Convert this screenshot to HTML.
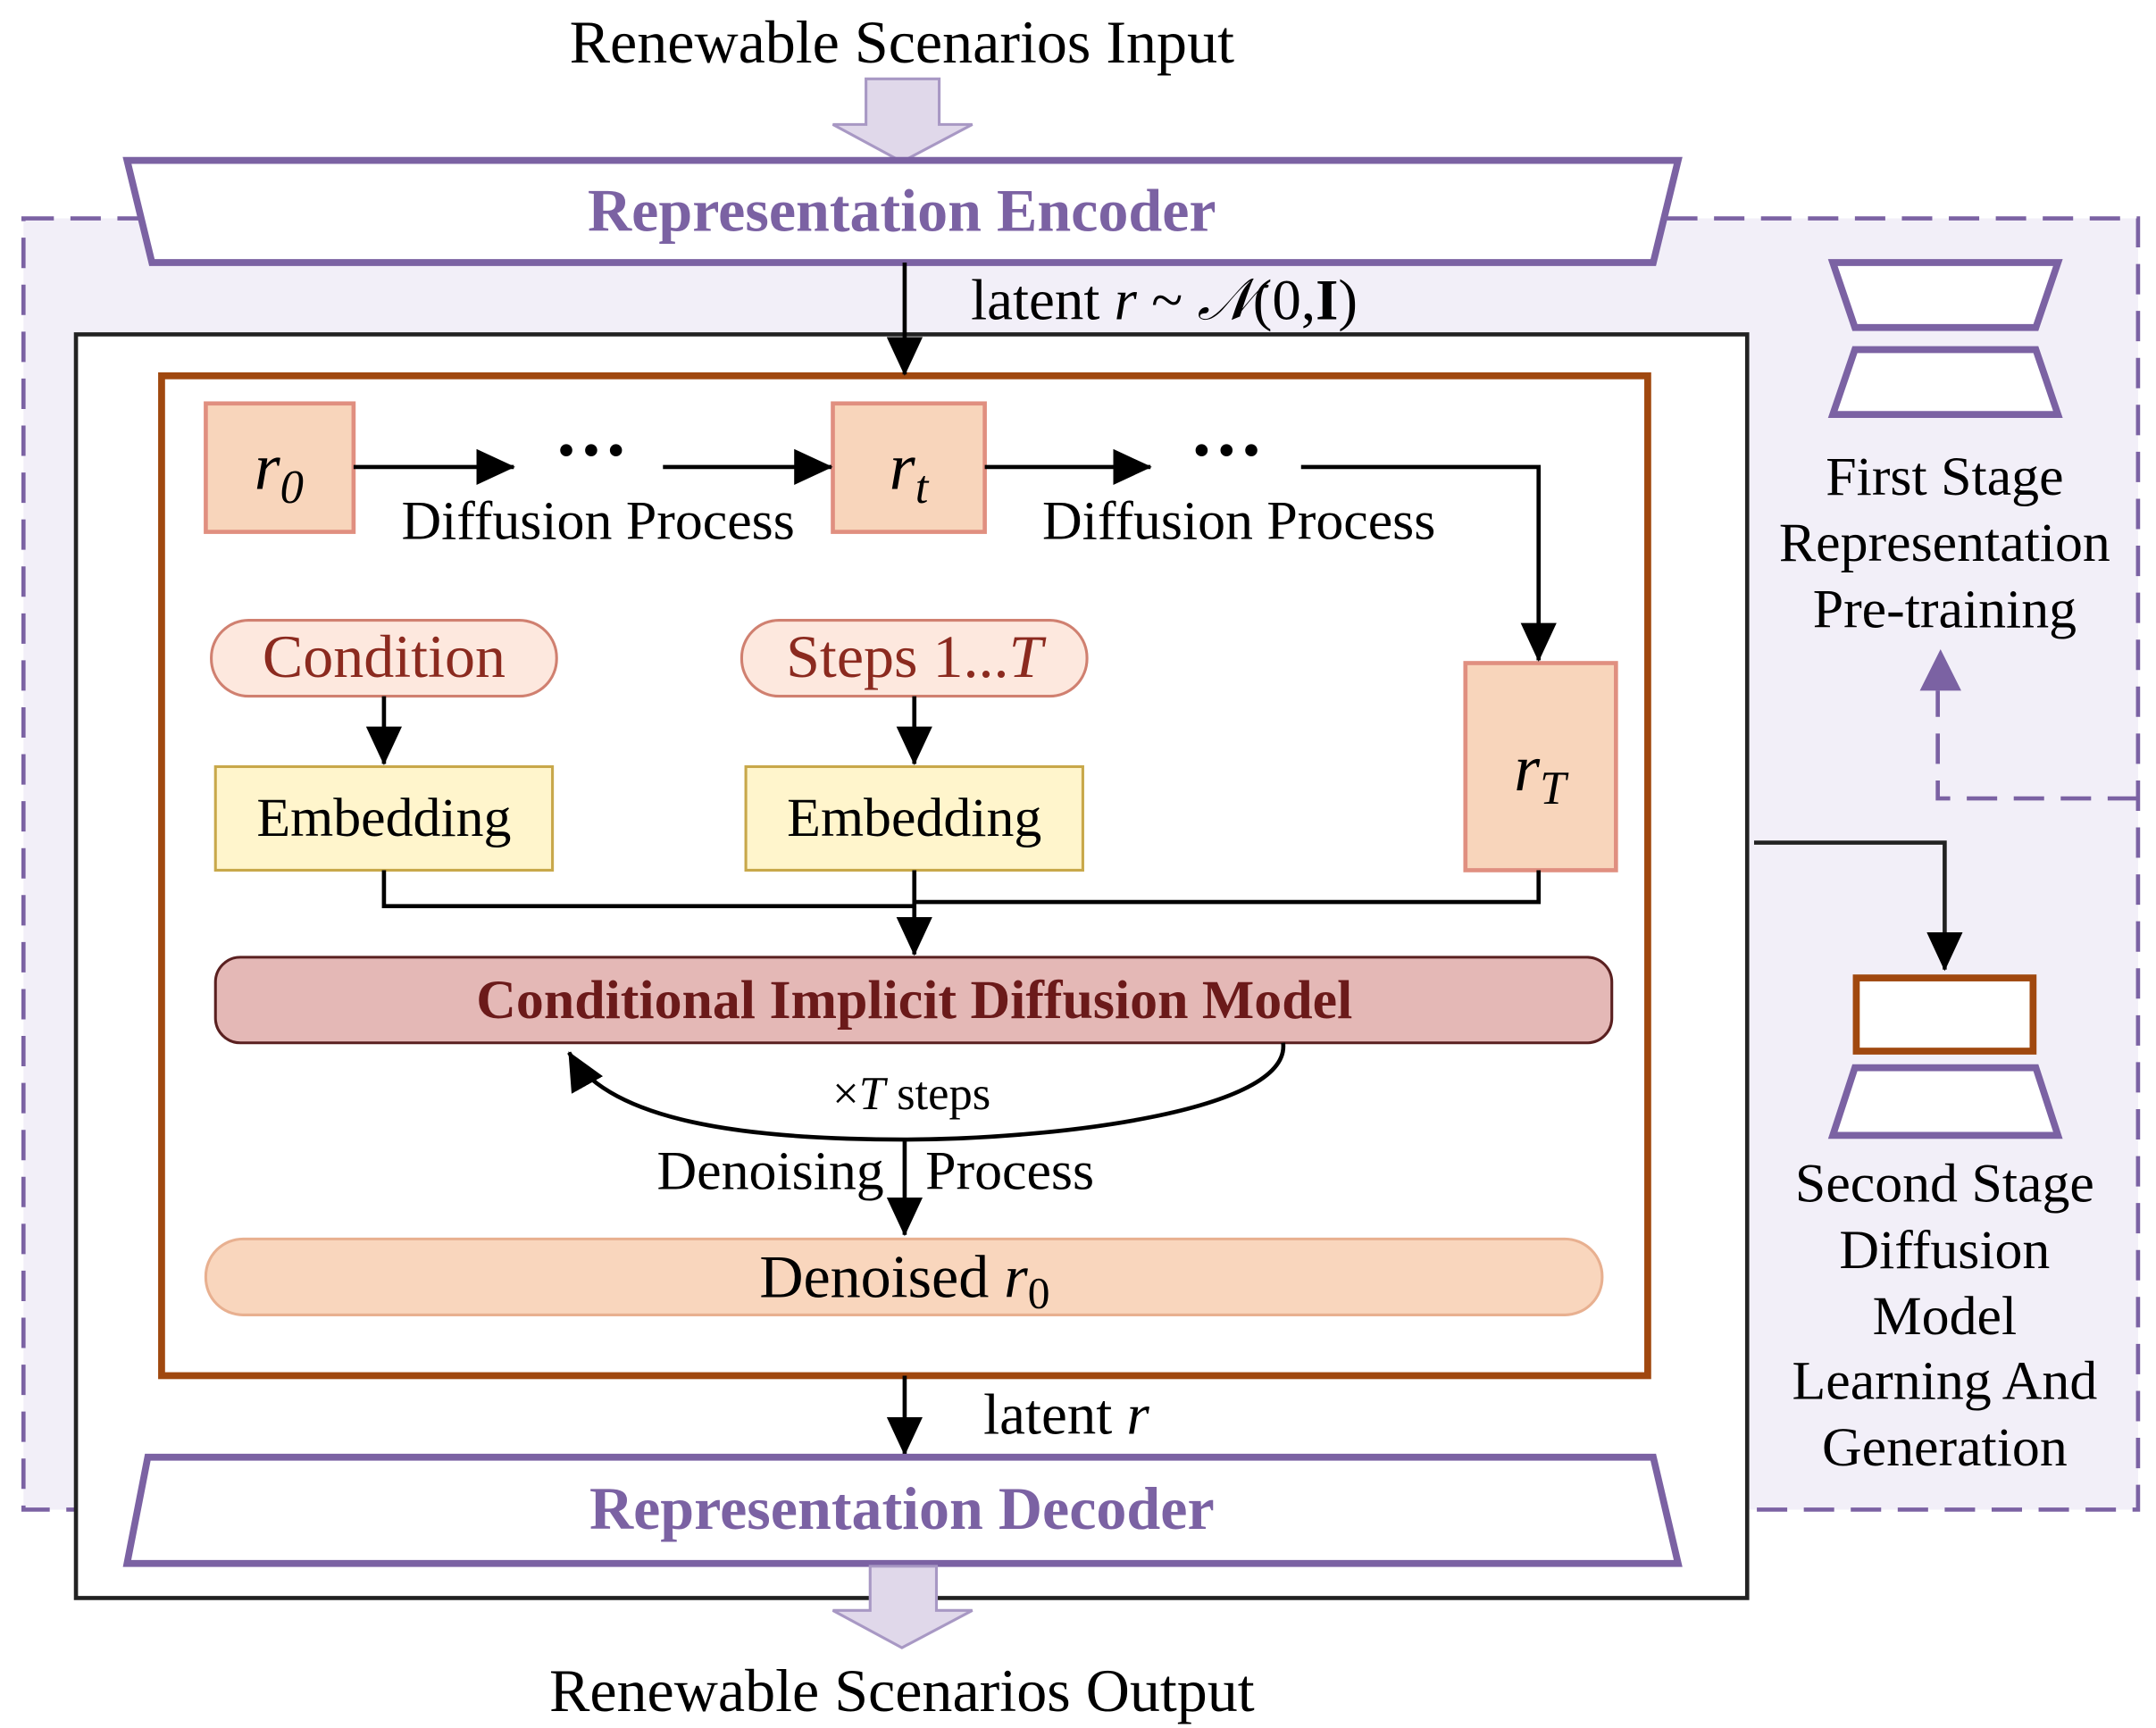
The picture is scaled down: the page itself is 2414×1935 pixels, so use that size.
<!DOCTYPE html>
<html><head><meta charset="utf-8"><style>
html,body{margin:0;padding:0;background:#fff;}
svg{display:block;}
text{font-family:"Liberation Serif",serif;}
</style></head><body>
<svg width="2414" height="1935" viewBox="0 0 1561 1251" xmlns="http://www.w3.org/2000/svg">
<defs>
<marker id="abl" markerWidth="28" markerHeight="26" refX="27" refY="13" orient="auto" markerUnits="userSpaceOnUse" viewBox="0 0 28 26"><path d="M0,0 L28,13 L0,26 z" fill="#000"/></marker>
</defs>
<rect width="1561" height="1251" fill="#fff"/>
<rect x="17" y="158" width="1531" height="935" fill="#f2eff8" stroke="#7b62a3" stroke-width="3" stroke-dasharray="22,12"/>
<path d="M1548,578 L1403,578 L1403,500" fill="none" stroke="#7b62a3" stroke-width="3" stroke-dasharray="22,12"/>
<path d="M1390,500 L1405,470 L1420,500 z" fill="#7b62a3"/>
<text x="653" y="45" font-size="44" text-anchor="middle">Renewable Scenarios Input</text>
<path d="M627,57 L680,57 L680,90 L704,90 L653,117 L603,90 L627,90 z" fill="#e0d8ea" stroke="#a898c4" stroke-width="2"/>
<rect x="55" y="242" width="1210" height="915" fill="#fff" stroke="#222" stroke-width="3"/>
<path d="M92,116 L1215,116 L1197,190 L110,190 z" fill="#fff" stroke="#7b62a3" stroke-width="5"/>
<text x="653" y="167" font-size="44" font-weight="bold" fill="#7b62a3" text-anchor="middle">Representation Encoder</text>
<rect x="117" y="272" width="1076" height="724" fill="#fff" stroke="#a0480f" stroke-width="5"/>
<line x1="655" y1="190" x2="655" y2="271" stroke="#000" stroke-width="3" marker-end="url(#abl)"/>
<text x="703" y="231" font-size="42">latent <tspan font-style="italic">r</tspan> ~ <tspan font-style="italic">𝒩</tspan>(0,<tspan font-weight="bold">I</tspan>)</text>
<rect x="149" y="292" width="107" height="93" fill="#f8d5bb" stroke="#e08f80" stroke-width="3"/>
<text x="202" y="354" font-size="48" font-style="italic" text-anchor="middle">r<tspan font-size="34" dy="10">0</tspan></text>
<rect x="603" y="292" width="110" height="93" fill="#f8d5bb" stroke="#e08f80" stroke-width="3"/>
<text x="658" y="354" font-size="48" font-style="italic" text-anchor="middle">r<tspan font-size="34" dy="10">t</tspan></text>
<rect x="1061" y="480" width="109" height="150" fill="#f8d5bb" stroke="#e08f80" stroke-width="3"/>
<text x="1115" y="572" font-size="48" font-style="italic" text-anchor="middle">r<tspan font-size="34" dy="10">T</tspan></text>
<line x1="256" y1="338" x2="372" y2="338" stroke="#000" stroke-width="3" marker-end="url(#abl)"/>
<text x="428" y="344" font-size="54" font-weight="bold" text-anchor="middle">···</text>
<line x1="480" y1="338" x2="602" y2="338" stroke="#000" stroke-width="3" marker-end="url(#abl)"/>
<line x1="713" y1="338" x2="833" y2="338" stroke="#000" stroke-width="3" marker-end="url(#abl)"/>
<text x="888" y="344" font-size="54" font-weight="bold" text-anchor="middle">···</text>
<path d="M942,338 L1114,338 L1114,478" fill="none" stroke="#000" stroke-width="3" marker-end="url(#abl)"/>
<text x="433" y="390" font-size="40" text-anchor="middle">Diffusion Process</text>
<text x="897" y="390" font-size="40" text-anchor="middle">Diffusion Process</text>
<rect x="153" y="449" width="250" height="55" rx="27" fill="#fde8de" stroke="#d08070" stroke-width="2"/>
<text x="278" y="490" font-size="44" fill="#8b2a1f" text-anchor="middle">Condition</text>
<rect x="537" y="449" width="250" height="55" rx="27" fill="#fde8de" stroke="#d08070" stroke-width="2"/>
<text x="662" y="490" font-size="44" fill="#8b2a1f" text-anchor="middle">Steps 1...<tspan font-style="italic">T</tspan></text>
<line x1="278" y1="504" x2="278" y2="553" stroke="#000" stroke-width="3" marker-end="url(#abl)"/>
<line x1="662" y1="504" x2="662" y2="553" stroke="#000" stroke-width="3" marker-end="url(#abl)"/>
<rect x="156" y="555" width="244" height="75" fill="#fff5cc" stroke="#c8a84a" stroke-width="2"/>
<text x="278" y="605" font-size="40" text-anchor="middle">Embedding</text>
<rect x="540" y="555" width="244" height="75" fill="#fff5cc" stroke="#c8a84a" stroke-width="2"/>
<text x="662" y="605" font-size="40" text-anchor="middle">Embedding</text>
<path d="M278,630 L278,656 L662,656" fill="none" stroke="#000" stroke-width="3"/>
<path d="M1114,630 L1114,653 L662,653" fill="none" stroke="#000" stroke-width="3"/>
<line x1="662" y1="630" x2="662" y2="691" stroke="#000" stroke-width="3" marker-end="url(#abl)"/>
<rect x="156" y="693" width="1011" height="62" rx="18" fill="#e4b8b6" stroke="#5a2020" stroke-width="2"/>
<text x="662" y="737" font-size="40" font-weight="bold" fill="#6b1a1a" text-anchor="middle">Conditional Implicit Diffusion Model</text>
<path d="M929,755 C935,805 760,825 655,825 C540,825 440,812 412,762" fill="none" stroke="#000" stroke-width="3" marker-end="url(#abl)"/>
<text x="660" y="803" font-size="34" text-anchor="middle">×<tspan font-style="italic">T</tspan> steps</text>
<line x1="655" y1="825" x2="655" y2="894" stroke="#000" stroke-width="3" marker-end="url(#abl)"/>
<text x="640" y="861" font-size="40" text-anchor="end">Denoising</text>
<text x="670" y="861" font-size="40">Process</text>
<rect x="149" y="897" width="1011" height="55" rx="27" fill="#f9d6bd" stroke="#e8b090" stroke-width="2"/>
<text x="655" y="939" font-size="44" text-anchor="middle">Denoised  <tspan font-style="italic">r</tspan><tspan font-size="32" dy="8">0</tspan></text>
<line x1="655" y1="996" x2="655" y2="1053" stroke="#000" stroke-width="3" marker-end="url(#abl)"/>
<text x="712" y="1038" font-size="42">latent <tspan font-style="italic">r</tspan></text>
<path d="M107,1055 L1197,1055 L1215,1132 L92,1132 z" fill="#fff" stroke="#7b62a3" stroke-width="5"/>
<text x="653" y="1107" font-size="44" font-weight="bold" fill="#7b62a3" text-anchor="middle">Representation Decoder</text>
<path d="M630,1134 L678,1134 L678,1166 L704,1166 L653,1193 L603,1166 L630,1166 z" fill="#e0d8ea" stroke="#a898c4" stroke-width="2"/>
<text x="653" y="1239" font-size="44" text-anchor="middle">Renewable Scenarios Output</text>
<path d="M1327,190 L1490,190 L1474,237 L1343,237 z" fill="#fff" stroke="#7b62a3" stroke-width="5"/>
<path d="M1343,253 L1474,253 L1490,300 L1327,300 z" fill="#fff" stroke="#7b62a3" stroke-width="5"/>
<text x="1408" y="358" font-size="40" text-anchor="middle">First Stage</text>
<text x="1408" y="406" font-size="40" text-anchor="middle">Representation</text>
<text x="1408" y="454" font-size="40" text-anchor="middle">Pre-training</text>
<path d="M1270,610 L1408,610 L1408,702" fill="none" stroke="#222" stroke-width="3" marker-end="url(#abl)"/>
<rect x="1344" y="708" width="128" height="53" fill="#fff" stroke="#a0480f" stroke-width="5"/>
<path d="M1343,773 L1474,773 L1490,822 L1327,822 z" fill="#fff" stroke="#7b62a3" stroke-width="5"/>
<text x="1408" y="870" font-size="40" text-anchor="middle">Second Stage</text>
<text x="1408" y="918" font-size="40" text-anchor="middle">Diffusion</text>
<text x="1408" y="966" font-size="40" text-anchor="middle">Model</text>
<text x="1408" y="1013" font-size="40" text-anchor="middle">Learning And</text>
<text x="1408" y="1061" font-size="40" text-anchor="middle">Generation</text>
</svg>
</body></html>
